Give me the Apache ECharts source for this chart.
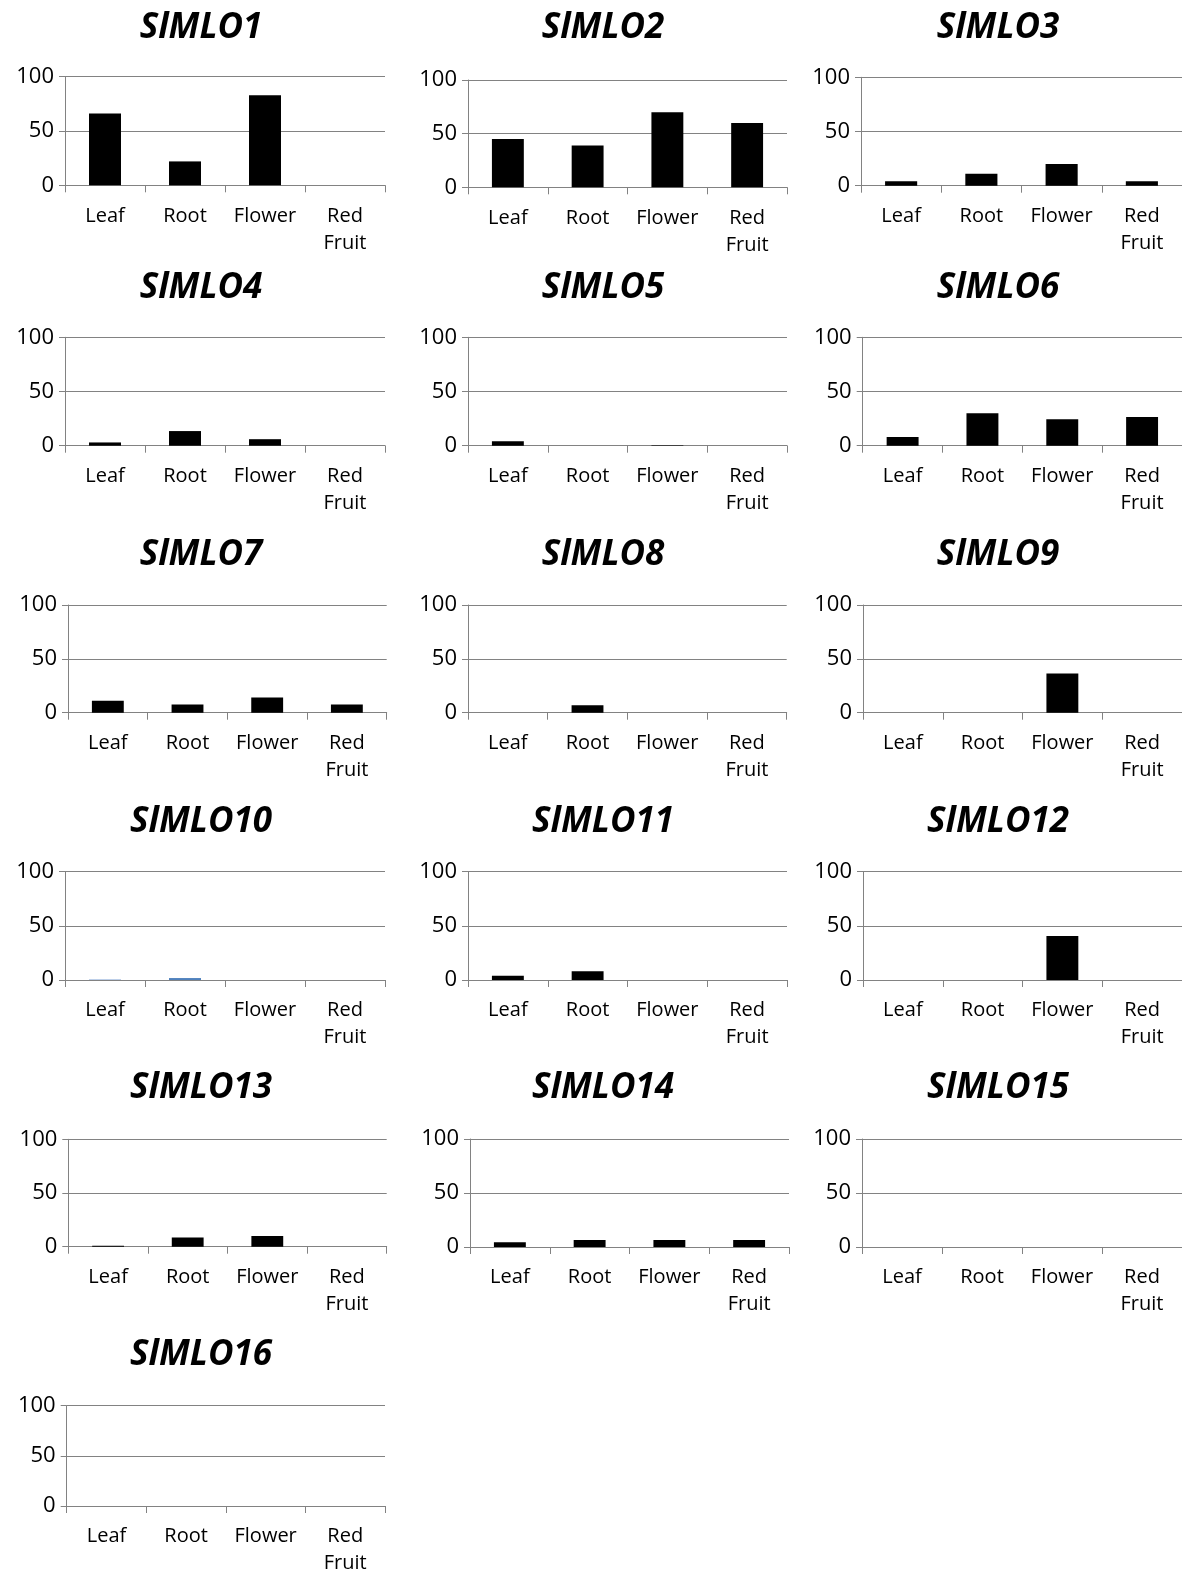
<!DOCTYPE html>
<html>
<head>
<meta charset="utf-8">
<script src="https://cdn.jsdelivr.net/npm/echarts@6/dist/echarts.min.js"></script>
<style>
html,body{margin:0;padding:0;background:#fff;}
#chart{width:1182px;height:1577px;}
</style>
</head>
<body>
<div id="chart"></div>
<script>
// ---- Data ----
const categories = ['Leaf', 'Root', 'Flower', 'Red\nFruit'];
const genes = ['SlMLO1','SlMLO2','SlMLO3','SlMLO4','SlMLO5','SlMLO6','SlMLO7','SlMLO8',
               'SlMLO9','SlMLO10','SlMLO11','SlMLO12','SlMLO13','SlMLO14','SlMLO15','SlMLO16'];
const yTickValues = [0, 50, 100];

const slmlo1  = [66, 22, 83, 0];
const slmlo2  = [45, 39, 70, 60];
const slmlo3  = [4, 11, 20, 4];
const slmlo4  = [3, 13.5, 6, 0];
const slmlo5  = [4, 0, 0.5, 0];
const slmlo6  = [8, 30, 24.5, 26.5];
const slmlo7  = [11, 7.5, 14, 7.5];
const slmlo8  = [0, 7, 0, 0];
const slmlo9  = [0, 0, 36.5, 0];
const slmlo10 = [0.6, 1.8, 0, 0];
const slmlo11 = [4, 8, 0, 0];
const slmlo12 = [0, 0, 40.5, 0];
const slmlo13 = [0.8, 8.5, 10, 0];
const slmlo14 = [4.5, 6.5, 6.5, 6.5];
const slmlo15 = [0, 0, 0, 0];
const slmlo16 = [0, 0, 0, 0];

const allValues = [slmlo1, slmlo2, slmlo3, slmlo4, slmlo5, slmlo6, slmlo7, slmlo8,
                   slmlo9, slmlo10, slmlo11, slmlo12, slmlo13, slmlo14, slmlo15, slmlo16];

// ---- Layout (plot rectangles: left x, top y (100 line), right x, bottom y (0 line)) ----
const rects = [
  [65, 76.7, 385, 185.3], [468, 80, 787, 187.3], [861, 77.3, 1182, 185.7],
  [65, 337.3, 385, 445.7], [468, 337.3, 787, 445.7], [862.7, 337.3, 1182, 445.7],
  [68, 605, 386.7, 712.7], [468, 605, 786.7, 712.7], [863, 605, 1182, 712.7],
  [65, 871.7, 385, 980], [468, 871.5, 787, 980], [863, 871.5, 1182, 980],
  [68.3, 1139.3, 386.7, 1246.7], [470, 1139, 789, 1247], [862, 1139, 1182, 1247],
  [66.7, 1405.7, 385, 1513.3]
];
const titleX = [201, 603, 998];
const titleY = [28, 288, 555, 822, 1088, 1355];

// special colours for SlMLO10 (blue bars in the original)
const specialColors = {9: ['#9ab5de', '#4f81bd', '#4f81bd', '#4f81bd']};

const FONT = '"Open Sans", "Noto Sans", sans-serif';
const GRAY = '#828282';

const grids = [], xAxes = [], yAxes = [], series = [], graphics = [];
genes.forEach((g, i) => {
  const r = rects[i];
  grids.push({left: r[0], top: r[1], width: r[2] - r[0], height: r[3] - r[1], containLabel: false});
  xAxes.push({
    type: 'category', gridIndex: i, data: categories, boundaryGap: true,
    axisLine: {show: true, lineStyle: {color: GRAY, width: 1}},
    axisTick: {show: true, alignWithLabel: false, length: 7, lineStyle: {color: GRAY}},
    axisLabel: {interval: 0, color: '#000', fontFamily: FONT, fontSize: 20, lineHeight: 27, margin: 17},
    splitLine: {show: false}
  });
  yAxes.push({
    type: 'value', gridIndex: i, min: yTickValues[0], max: yTickValues[yTickValues.length - 1],
    interval: yTickValues[1] - yTickValues[0],
    axisLine: {show: true, lineStyle: {color: GRAY, width: 1}},
    axisTick: {show: true, length: 6, lineStyle: {color: GRAY}},
    axisLabel: {color: '#000', fontFamily: FONT, fontSize: 22, margin: 11},
    splitLine: {show: true, lineStyle: {color: GRAY, width: 1}}
  });
  const cols = specialColors[i];
  series.push({
    type: 'bar', xAxisIndex: i, yAxisIndex: i, barWidth: '40%',
    data: allValues[i].map((v, k) => cols ? {value: v, itemStyle: {color: cols[k]}} : v),
    itemStyle: {color: '#000'},
    animation: false, silent: true
  });
  graphics.push({
    type: 'text', x: titleX[i % 3], y: titleY[Math.floor(i / 3)],
    style: {
      text: g, fill: '#000',
      font: 'italic bold 35px ' + FONT,
      align: 'center', verticalAlign: 'middle',
      textAlign: 'center', textVerticalAlign: 'middle'
    }
  });
});

const chart = echarts.init(document.getElementById('chart'), null, {renderer: 'canvas'});
chart.setOption({
  animation: false,
  backgroundColor: '#fff',
  grid: grids, xAxis: xAxes, yAxis: yAxes, series: series,
  graphic: graphics
});
</script>
</body>
</html>
